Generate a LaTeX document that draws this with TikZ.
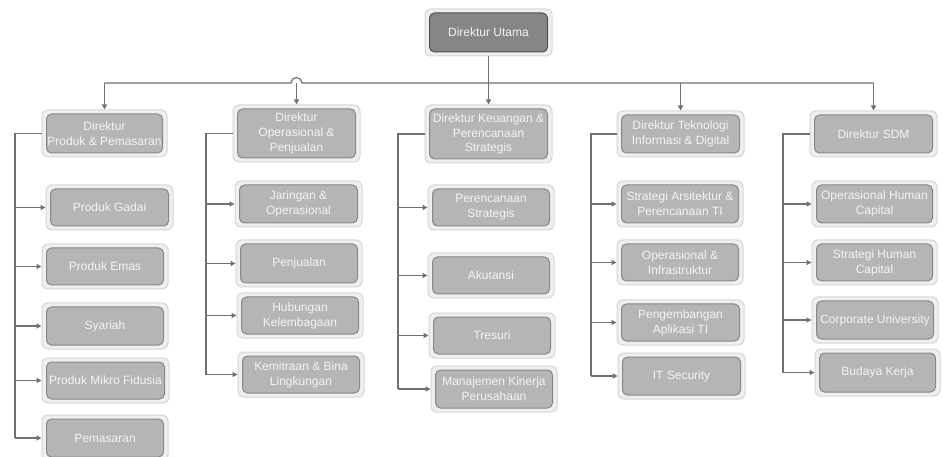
\documentclass[tikz,border=0pt]{standalone}
\usepackage{fontspec}
\setmainfont{Liberation Sans}
\usetikzlibrary{arrows.meta}
\definecolor{frameF}{HTML}{EFEFEF}
\definecolor{frameD}{HTML}{D6D6D6}
\definecolor{boxF}{HTML}{B5B5B5}
\definecolor{boxD}{HTML}{878787}
\definecolor{topF}{HTML}{868686}
\definecolor{topD}{HTML}{505050}
\definecolor{lineC}{HTML}{707070}
\definecolor{txtC}{HTML}{F4F4F4}
\tikzset{
 frame/.style={draw=frameD, fill=frameF, line width=1pt, rounded corners=6pt, inner sep=0pt},
 unit/.style={draw=boxD, fill=boxF, line width=1pt, rounded corners=5pt, inner sep=0pt, text=txtC, align=center, font=\fontsize{12}{14.8}\selectfont},
 topunit/.style={unit, draw=topD, fill=topF},
 conn/.style={draw=lineC, line width=1.2pt},
 arr/.style={conn, -{Triangle[length=5pt,width=5pt]}},
}
\newcommand\orgbox[7][unit]{%
 \pgfmathsetmacro\cx{(#3+#5)/2}\pgfmathsetmacro\cy{(#4+#6)/2}%
 \pgfmathsetmacro\ow{#5-#3}\pgfmathsetmacro\oh{#6-#4}%
 \pgfmathsetmacro\iw{#5-#3-9}\pgfmathsetmacro\ih{#6-#4-8}%
 \node[frame, minimum width=\ow pt, minimum height=\oh pt] (o#2) at (\cx,\cy) {};
 \node[#1, minimum width=\iw pt, minimum height=\ih pt] (#2) at (\cx,\cy) {#7};
}
\begin{document}
\begin{tikzpicture}[x=1pt,y=-1pt]
\useasboundingbox (0,0) rectangle (943,457);
\fill[white] (0,0) rectangle (943,457);
\clip (0,0) rectangle (943,457);
% top
\orgbox[topunit]{U}{425}{9}{552}{56}{Direktur Utama}
% directors
\orgbox{DP}{42}{110}{167}{157}{Direktur\\Produk \& Pemasaran}
\orgbox{DO}{233}{105}{360}{162}{Direktur\\Operasional \&\\Penjualan}
\orgbox{DK}{425}{105}{552}{163}{Direktur Keuangan \&\\Perencanaan\\Strategis}
\orgbox{DT}{617}{111}{744}{157}{Direktur Teknologi\\Informasi \& Digital}
\orgbox{DS}{810}{111}{937}{157}{Direktur SDM}
% column 1
\orgbox{P1}{46}{185}{173}{230}{Produk Gadai}
\orgbox{P2}{42}{244}{168}{289}{Produk Emas}
\orgbox{P3}{42}{303}{168}{349}{Syariah}
\orgbox{P4}{42}{358}{169}{403}{Produk Mikro Fidusia}
\orgbox{P5}{42}{415}{168}{461}{Pemasaran}
% column 2
\orgbox{O1}{235}{181}{362}{227}{Jaringan \&\\Operasional}
\orgbox{O2}{236}{240}{362}{287}{Penjualan}
\orgbox{O3}{237}{293}{363}{338}{Hubungan\\Kelembagaan}
\orgbox{O4}{238}{352}{364}{397}{Kemitraan \& Bina\\Lingkungan}
% column 3
\orgbox{K1}{428}{185}{554}{230}{Perencanaan\\Strategis}
\orgbox{K2}{428}{253}{554}{298}{Akutansi}
\orgbox{K3}{429}{313}{555}{358}{Tresuri}
\orgbox{K4}{431}{366}{557}{412}{Manajemen Kinerja\\Perusahaan}
% column 4
\orgbox{T1}{617}{181}{743}{227}{Strategi Arsitektur \&\\Perencanaan TI}
\orgbox{T2}{617}{240}{743}{285}{Operasional \&\\Infrastruktur}
\orgbox{T3}{617}{300}{744}{345}{Pengembangan\\Aplikasi TI}
\orgbox{T4}{618}{353}{745}{399}{IT Security}
% column 5
\orgbox{S1}{812}{181}{937}{227}{Operasional Human\\Capital}
\orgbox{S2}{812}{240}{937}{285}{Strategi Human\\Capital}
\orgbox{S3}{812}{297}{938}{343}{Corporate University}
\orgbox{S4}{815}{349}{940}{396}{Budaya Kerja}
% bus
\coordinate (bus) at (0,83);
\draw[conn] (oU.south) -- (oU.south |- bus);
\draw[conn] (oDS.north |- bus) -- (302,83) arc[start angle=0,end angle=-180,radius=5.5] -- (oDP.north |- bus);
\foreach \d in {DP,DO,DK,DT,DS}{\draw[arr] (o\d.north |- bus) -- (o\d.north);}
% column connectors
\coordinate (vP) at (15,0);
\coordinate (vO) at (206,0);
\coordinate (vK) at (398,0);
\coordinate (vT) at (591,0);
\coordinate (vS) at (783,0);
\draw[conn] (oDP.west) -| (vP |- oP5.west);
\draw[conn] (oDO.west) -| (vO |- oO4.west);
\draw[conn] (oDK.west) -| (vK |- oK4.west);
\draw[conn] (oDT.west) -| (vT |- oT4.west);
\draw[conn] (oDS.west) -| (vS |- oS4.west);
\foreach \i in {1,...,5}{\draw[arr] (vP |- oP\i.west) -- (oP\i.west);}
\foreach \i in {1,...,4}{\draw[arr] (vO |- oO\i.west) -- (oO\i.west);}
\foreach \i in {1,...,4}{\draw[arr] (vK |- oK\i.west) -- (oK\i.west);}
\foreach \i in {1,...,4}{\draw[arr] (vT |- oT\i.west) -- (oT\i.west);}
\foreach \i in {1,...,4}{\draw[arr] (vS |- oS\i.west) -- (oS\i.west);}
\end{tikzpicture}
\end{document}
